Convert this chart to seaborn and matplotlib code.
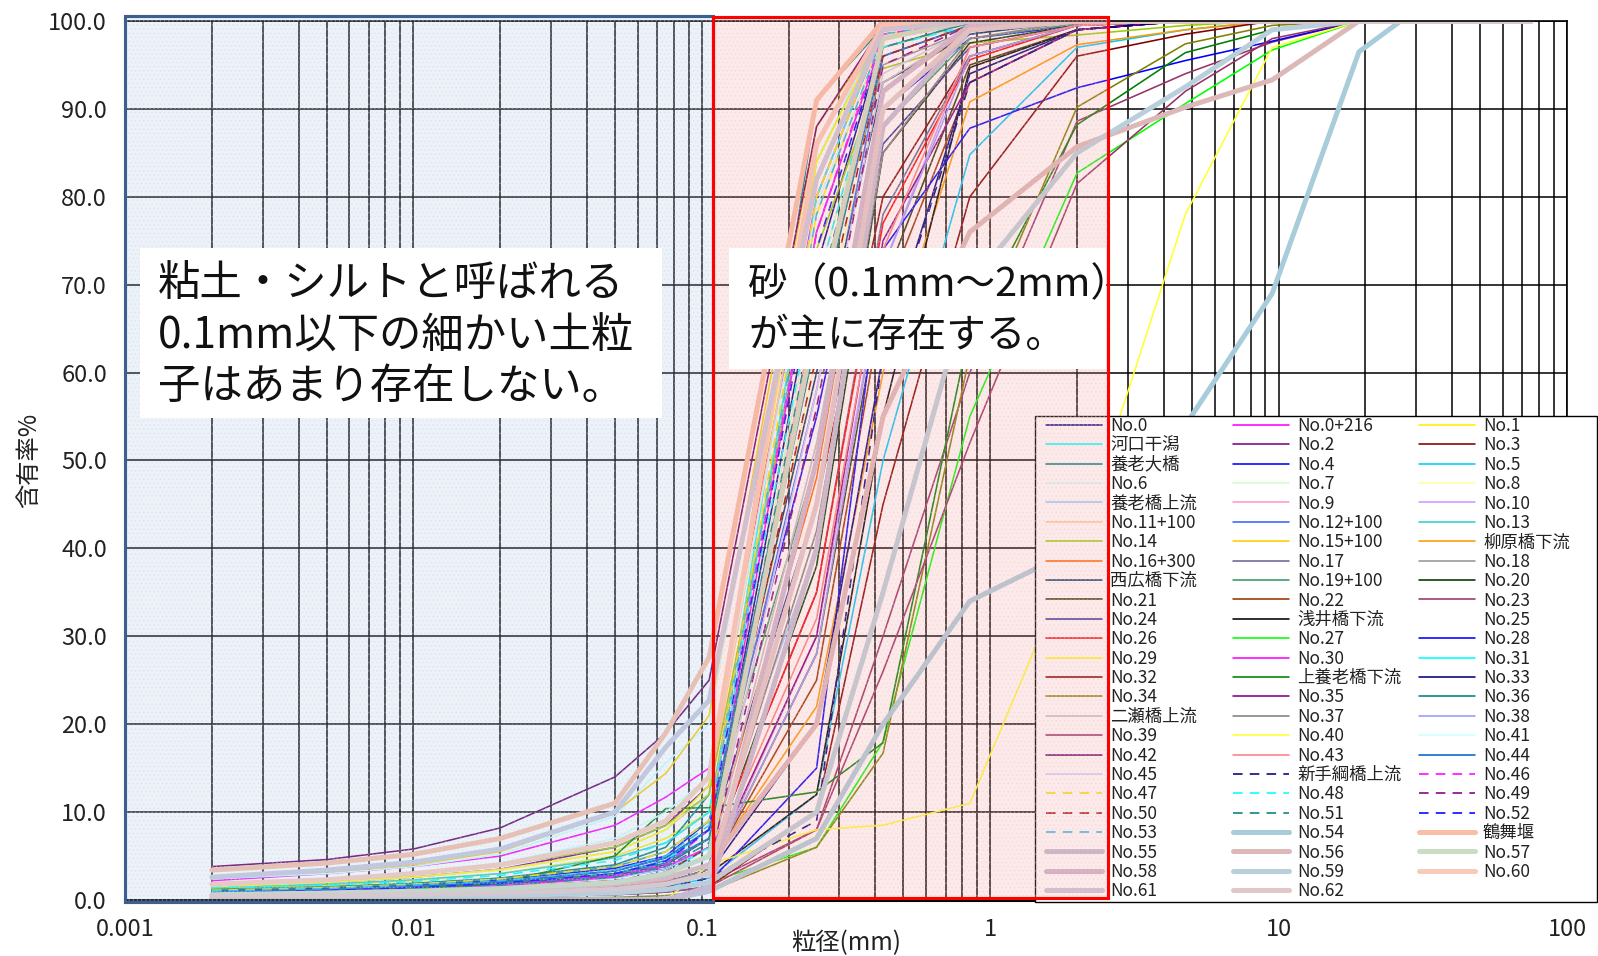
import matplotlib
matplotlib.use("Agg")
import matplotlib.pyplot as plt
from matplotlib.patches import Rectangle
from matplotlib.lines import Line2D
from matplotlib.ticker import LogLocator, FixedLocator, NullFormatter
import seaborn as sns

# Sieve / hydrometer particle sizes (mm)
SIZES_MM = [0.002, 0.005, 0.01, 0.02, 0.05, 0.075, 0.106,
            0.25, 0.425, 0.85, 2.0, 4.75, 9.5, 19.0, 26.5, 37.5, 53.0, 75.0]

# Sampling points, in legend order
NAMES = [
    "No.0", "No.0+216", "No.1", "河口干潟", "No.2", "No.3", "養老大橋", "No.4", "No.5",
    "No.6", "No.7", "No.8", "養老橋上流", "No.9", "No.10", "No.11+100", "No.12+100", "No.13",
    "No.14", "No.15+100", "柳原橋下流", "No.16+300", "No.17", "No.18", "西広橋下流", "No.19+100", "No.20",
    "No.21", "No.22", "No.23", "No.24", "浅井橋下流", "No.25", "No.26", "No.27", "No.28",
    "No.29", "No.30", "No.31", "No.32", "上養老橋下流", "No.33", "No.34", "No.35", "No.36",
    "二瀬橋上流", "No.37", "No.38", "No.39", "No.40", "No.41", "No.42", "No.43", "No.44",
    "No.45", "新手綱橋上流", "No.46", "No.47", "No.48", "No.49", "No.50", "No.51", "No.52",
    "No.53", "No.54", "鶴舞堰", "No.55", "No.56", "No.57", "No.58", "No.59", "No.60",
    "No.61", "No.62",
]

# Percent passing (含有率%) at each size in SIZES_MM, one row per sampling point
PASSING = [
    [1.0, 1.2, 1.4, 1.8, 2.6, 3.5, 6.0, 72, 98, 99.6, 100, 100, 100, 100, 100, 100, 100, 100],
    [2.2, 3.0, 3.8, 5.0, 8.5, 11.7, 15.0, 80, 99, 100, 100, 100, 100, 100, 100, 100, 100, 100],
    [1.3, 1.7, 2.2, 3.0, 5.0, 7.0, 10.0, 78, 98.5, 99.8, 100, 100, 100, 100, 100, 100, 100, 100],
    [0.8, 1.0, 1.3, 1.7, 3.0, 4.5, 8.0, 84, 99.2, 100, 100, 100, 100, 100, 100, 100, 100, 100],
    [1.6, 2.0, 2.6, 3.5, 6.0, 8.5, 13.0, 86, 99, 100, 100, 100, 100, 100, 100, 100, 100, 100],
    [0.5, 0.6, 0.8, 1.0, 1.5, 2.0, 3.5, 45, 80, 96, 99.5, 100, 100, 100, 100, 100, 100, 100],
    [1.2, 1.5, 1.9, 2.5, 4.0, 6.0, 12.0, 91, 99.3, 100, 100, 100, 100, 100, 100, 100, 100, 100],
    [1.0, 1.3, 1.7, 2.3, 3.6, 5.0, 9.0, 55, 90, 98, 99.5, 100, 100, 100, 100, 100, 100, 100],
    [0.3, 0.4, 0.5, 0.7, 1.0, 1.5, 2.5, 12, 50, 84.8, 97, 99, 100, 100, 100, 100, 100, 100],
    [2.4, 3.0, 3.8, 5.2, 9.5, 15.6, 20.0, 86, 98, 99.5, 100, 100, 100, 100, 100, 100, 100, 100],
    [0.6, 0.8, 1.0, 1.3, 2.0, 3.0, 5.0, 70, 97, 99.5, 100, 100, 100, 100, 100, 100, 100, 100],
    [0.4, 0.5, 0.7, 1.0, 1.6, 2.5, 4.0, 62, 94, 99, 100, 100, 100, 100, 100, 100, 100, 100],
    [0.7, 0.9, 1.2, 1.6, 2.5, 3.5, 6.0, 40, 88, 98.5, 100, 100, 100, 100, 100, 100, 100, 100],
    [0.5, 0.7, 0.9, 1.2, 2.0, 3.0, 5.0, 68, 96, 99.5, 100, 100, 100, 100, 100, 100, 100, 100],
    [0.2, 0.3, 0.4, 0.6, 1.0, 1.5, 3.0, 30, 72, 97, 99.5, 100, 100, 100, 100, 100, 100, 100],
    [1.5, 2.0, 2.6, 3.5, 5.5, 8.0, 12.0, 82, 99, 100, 100, 100, 100, 100, 100, 100, 100, 100],
    [0.9, 1.1, 1.4, 1.9, 3.0, 4.5, 7.0, 58, 96, 99.5, 100, 100, 100, 100, 100, 100, 100, 100],
    [1.4, 1.8, 2.3, 3.0, 4.8, 6.5, 10.0, 76, 98, 99.8, 100, 100, 100, 100, 100, 100, 100, 100],
    [1.7, 2.2, 2.9, 3.9, 6.0, 8.5, 12.0, 74, 94.6, 97.5, 98.4, 99.5, 100, 100, 100, 100, 100, 100],
    [2.6, 3.2, 4.0, 5.5, 10.0, 14.4, 21.0, 88, 99, 100, 100, 100, 100, 100, 100, 100, 100, 100],
    [0.4, 0.5, 0.7, 1.0, 1.6, 2.5, 4.0, 22, 60, 90.8, 97.3, 99, 100, 100, 100, 100, 100, 100],
    [0.8, 1.0, 1.2, 1.5, 2.2, 3.0, 5.0, 48, 92, 99, 100, 100, 100, 100, 100, 100, 100, 100],
    [0.6, 0.8, 1.0, 1.3, 2.0, 3.0, 5.0, 35, 78, 96, 99.5, 100, 100, 100, 100, 100, 100, 100],
    [0.9, 1.1, 1.4, 1.8, 2.8, 4.0, 7.0, 66, 95, 99, 100, 100, 100, 100, 100, 100, 100, 100],
    [1.1, 1.3, 1.6, 2.1, 3.3, 4.8, 8.0, 60, 93, 98.5, 100, 100, 100, 100, 100, 100, 100, 100],
    [1.2, 1.5, 1.8, 2.4, 3.8, 5.5, 9.0, 50, 88, 98, 99.7, 100, 100, 100, 100, 100, 100, 100],
    [0.5, 0.7, 0.9, 1.2, 1.8, 2.6, 4.0, 38, 85, 97.5, 99.5, 100, 100, 100, 100, 100, 100, 100],
    [0.3, 0.4, 0.5, 0.7, 1.0, 1.6, 3.0, 28, 70, 95, 99, 100, 100, 100, 100, 100, 100, 100],
    [0.4, 0.5, 0.7, 0.9, 1.4, 2.0, 3.5, 25, 68, 93, 99, 100, 100, 100, 100, 100, 100, 100],
    [0.2, 0.3, 0.4, 0.5, 0.8, 1.2, 2.0, 8, 30, 60, 88.6, 94, 97.6, 100, 100, 100, 100, 100],
    [0.9, 1.1, 1.4, 1.8, 2.8, 4.0, 7.0, 45, 86, 97, 99.5, 100, 100, 100, 100, 100, 100, 100],
    [0.3, 0.4, 0.5, 0.7, 1.0, 1.5, 3.0, 12, 55, 94.7, 99, 100, 100, 100, 100, 100, 100, 100],
    [0.5, 0.6, 0.8, 1.0, 1.5, 2.0, 3.0, 50, 90, 99, 100, 100, 100, 100, 100, 100, 100, 100],
    [0.6, 0.8, 1.0, 1.3, 2.0, 3.0, 5.0, 35, 77, 95.6, 99.5, 100, 100, 100, 100, 100, 100, 100],
    [0.3, 0.4, 0.5, 0.6, 1.0, 1.4, 2.0, 6, 18, 55, 82.7, 90.6, 96.7, 100, 100, 100, 100, 100],
    [0.2, 0.3, 0.4, 0.5, 0.8, 1.2, 2.0, 15, 74, 87.8, 92.4, 95.5, 97.7, 100, 100, 100, 100, 100],
    [1.5, 2.0, 2.6, 3.4, 5.5, 8.0, 13.0, 84, 99, 100, 100, 100, 100, 100, 100, 100, 100, 100],
    [0.7, 0.9, 1.2, 1.6, 2.6, 3.8, 6.0, 76, 98, 99.8, 100, 100, 100, 100, 100, 100, 100, 100],
    [0.6, 0.8, 1.0, 1.3, 2.0, 3.0, 6.0, 80, 99, 100, 100, 100, 100, 100, 100, 100, 100, 100],
    [0.2, 0.3, 0.3, 0.4, 0.6, 0.9, 1.5, 10, 45, 80, 96, 98.5, 100, 100, 100, 100, 100, 100],
    [0.5, 0.8, 1.2, 2.0, 5.0, 10.4, 10.5, 12.3, 17.9, 65, 88.2, 96.4, 99, 100, 100, 100, 100, 100],
    [0.4, 0.5, 0.6, 0.8, 1.2, 1.8, 3.0, 20, 62, 94, 99, 100, 100, 100, 100, 100, 100, 100],
    [0.1, 0.1, 0.2, 0.2, 0.3, 0.5, 1.0, 6, 16.7, 62, 90.2, 97.4, 99.5, 100, 100, 100, 100, 100],
    [0.4, 0.5, 0.7, 0.9, 1.4, 2.0, 3.5, 30, 75, 93, 99, 100, 100, 100, 100, 100, 100, 100],
    [1.0, 1.2, 1.5, 2.0, 3.0, 4.2, 7.0, 64, 97, 99.8, 100, 100, 100, 100, 100, 100, 100, 100],
    [0.5, 0.6, 0.8, 1.1, 1.7, 2.5, 4.0, 52, 93, 99, 100, 100, 100, 100, 100, 100, 100, 100],
    [0.4, 0.5, 0.7, 0.9, 1.4, 2.0, 3.5, 42, 85, 98, 100, 100, 100, 100, 100, 100, 100, 100],
    [0.3, 0.4, 0.5, 0.7, 1.0, 1.6, 3.0, 28, 72, 96, 99.5, 100, 100, 100, 100, 100, 100, 100],
    [0.2, 0.2, 0.3, 0.4, 0.6, 0.9, 1.5, 8, 26, 52, 81.5, 92, 98, 100, 100, 100, 100, 100],
    [0.0, 0.0, 0.0, 0.0, 0.0, 0.0, 4.0, 8, 8.5, 11, 40, 78, 97, 100, 100, 100, 100, 100],
    [1.8, 2.4, 3.1, 4.2, 7.0, 10.0, 14.0, 79, 98, 100, 100, 100, 100, 100, 100, 100, 100, 100],
    [3.8, 4.6, 5.8, 8.2, 14.0, 19.0, 25.0, 88, 99.5, 100, 100, 100, 100, 100, 100, 100, 100, 100],
    [0.5, 0.6, 0.8, 1.0, 1.5, 2.2, 4.0, 32, 74, 97, 99.5, 100, 100, 100, 100, 100, 100, 100],
    [1.0, 1.2, 1.6, 2.1, 3.3, 4.8, 8.0, 66, 96, 99.5, 100, 100, 100, 100, 100, 100, 100, 100],
    [0.6, 0.7, 0.9, 1.2, 1.9, 2.8, 5.0, 58, 94, 99.2, 100, 100, 100, 100, 100, 100, 100, 100],
    [0.3, 0.4, 0.5, 0.6, 1.0, 1.4, 2.5, 9, 62, 93, 99, 100, 100, 100, 100, 100, 100, 100],
    [0.9, 1.1, 1.4, 1.8, 2.8, 4.0, 8.0, 76, 98.5, 100, 100, 100, 100, 100, 100, 100, 100, 100],
    [1.1, 1.4, 1.8, 2.4, 3.8, 5.5, 9.0, 80, 99, 100, 100, 100, 100, 100, 100, 100, 100, 100],
    [1.4, 1.7, 2.1, 2.8, 4.5, 6.5, 10.0, 70, 97, 99.5, 100, 100, 100, 100, 100, 100, 100, 100],
    [0.5, 0.6, 0.8, 1.0, 1.6, 2.4, 4.0, 56, 95, 99.5, 100, 100, 100, 100, 100, 100, 100, 100],
    [0.7, 0.9, 1.1, 1.4, 2.2, 3.2, 6.0, 62, 96, 99.5, 100, 100, 100, 100, 100, 100, 100, 100],
    [0.8, 1.0, 1.3, 1.7, 2.6, 3.8, 6.5, 68, 97, 99.8, 100, 100, 100, 100, 100, 100, 100, 100],
    [0.9, 1.1, 1.4, 1.9, 3.0, 4.4, 8.0, 74, 98, 100, 100, 100, 100, 100, 100, 100, 100, 100],
    [1.0, 1.3, 1.7, 2.2, 3.4, 5.0, 8.5, 78, 98.5, 100, 100, 100, 100, 100, 100, 100, 100, 100],
    [0.0, 0.0, 0.0, 0.0, 0.0, 0.0, 1.0, 7, 20, 34, 40, 54, 69, 96.5, 100, 100, 100, 100],
    [3.4, 4.2, 5.2, 7.0, 11.0, 19.0, 27.6, 91, 100, 100, 100, 100, 100, 100, 100, 100, 100, 100],
    [0.0, 0.0, 0.0, 0.0, 0.0, 0.0, 1.0, 40, 88, 99, 100, 100, 100, 100, 100, 100, 100, 100],
    [0.5, 0.7, 0.9, 1.2, 1.8, 2.5, 4.0, 20, 55, 76, 85.7, 90.2, 93.3, 100, 100, 100, 100, 100],
    [0.6, 0.8, 1.0, 1.3, 2.0, 3.0, 5.0, 66, 98, 100, 100, 100, 100, 100, 100, 100, 100, 100],
    [0.0, 0.0, 0.0, 0.0, 0.0, 0.0, 1.5, 50, 92, 99.5, 100, 100, 100, 100, 100, 100, 100, 100],
    [0.2, 0.3, 0.4, 0.5, 0.8, 1.2, 2.0, 10, 35, 70, 85, 92.5, 99, 100, 100, 100, 100, 100],
    [1.8, 2.3, 3.0, 4.0, 6.5, 9.0, 14.0, 86, 99.5, 100, 100, 100, 100, 100, 100, 100, 100, 100],
    [2.6, 3.4, 4.3, 5.8, 10.0, 17.4, 22.7, 82, 99, 100, 100, 100, 100, 100, 100, 100, 100, 100],
    [0.4, 0.5, 0.6, 0.8, 1.2, 1.8, 3.0, 45, 90, 99, 100, 100, 100, 100, 100, 100, 100, 100],
]

# Line styling per sampling point
COLORS = [
    "#000080", "#ff00ff", "#ffee00", "#00ffff", "#800080", "#800000", "#008080", "#0000ff", "#00ccff",
    "#ccffff", "#ccffcc", "#ffff99", "#99ccff", "#ff99cc", "#cc99ff", "#ffcc99", "#3366ff", "#33cccc",
    "#99cc00", "#ffcc00", "#ff9900", "#ff6600", "#666699", "#969696", "#003366", "#339966", "#003300",
    "#333300", "#993300", "#993366", "#333399", "#000000", "#ffffff", "#ff0000", "#00ff00", "#0000ff",
    "#ffff00", "#ff00ff", "#00ffff", "#800000", "#008000", "#000080", "#808000", "#800080", "#008080",
    "#c0c0c0", "#808080", "#9999ff", "#993366", "#ffff33", "#ccffff", "#660066", "#ff8080", "#0066cc",
    "#ccccff", "#000080", "#ff00ff", "#ffdd00", "#00ffff", "#800080", "#a00000", "#008080", "#0000ff",
    "#22bbee", "#a9ccda", "#f8bfa5", "#c2bcd2", "#dcb8b8", "#ccdcc0", "#cab6cc", "#b9d0dc", "#f8cab8",
    "#c6c8da", "#e0c8c8",
]
DASHED = {"新手綱橋上流", "No.46", "No.47", "No.48", "No.49", "No.50", "No.51", "No.52", "No.53"}
THICK = {"No.54", "鶴舞堰", "No.55", "No.56", "No.57", "No.58", "No.59", "No.60", "No.61", "No.62"}

X_TICKS = [0.001, 0.01, 0.1, 1, 10, 100]
X_TICK_LABELS = ["0.001", "0.01", "0.1", "1", "10", "100"]
Y_TICKS = [0, 10, 20, 30, 40, 50, 60, 70, 80, 90, 100]

sns.set_theme(style="white")
plt.rcParams["font.family"] = ["Noto Sans CJK JP", "DejaVu Sans"]
plt.rcParams["hatch.linewidth"] = 0.6

W, H = 1598, 956
fig = plt.figure(figsize=(W / 100, H / 100), dpi=100)
L, R, T, B = 125, 1567, 21, 900
ax = fig.add_axes([L / W, 1 - B / H, (R - L) / W, (B - T) / H])


def style_of(name):
    lw = 3.6 if name in THICK else 1.15
    ls = (0, (6, 4.5)) if name in DASHED else "-"
    return lw, ls


for name, color, vals in zip(NAMES, COLORS, PASSING):
    lw, ls = style_of(name)
    sns.lineplot(x=SIZES_MM, y=vals, color=color, linewidth=lw, linestyle=ls,
                 solid_capstyle="round", ax=ax, zorder=2)

ax.set_xscale("log")
ax.set_xlim(0.001, 100)
ax.set_ylim(0, 100)
ax.xaxis.set_major_locator(FixedLocator(X_TICKS))
ax.set_xticklabels(X_TICK_LABELS)
ax.xaxis.set_minor_locator(LogLocator(base=10, subs=range(2, 10), numticks=50))
ax.xaxis.set_minor_formatter(NullFormatter())
ax.set_yticks(Y_TICKS)
ax.set_yticklabels([f"{v:.1f}" for v in Y_TICKS])
ax.tick_params(axis="both", which="both", length=0, labelsize=17, colors="#222222")
ax.tick_params(axis="x", pad=13)
ax.tick_params(axis="y", pad=13)
ax.set_axisbelow(True)
ax.grid(which="both", axis="x", color="black", linewidth=1.1)
ax.grid(which="major", axis="y", color="black", linewidth=1.1)
for side in ("top", "right", "left"):
    ax.spines[side].set_color("black")
    ax.spines[side].set_linewidth(1.2)
ax.spines["bottom"].set_color("black")
ax.spines["bottom"].set_linewidth(2.2)

ax.set_xlabel("粒径(mm)", fontsize=17.5, color="#222222", va="center")
ax.xaxis.set_label_coords(0.5, -(943 - B) / (B - T))
ax.set_ylabel("含有率%", fontsize=17.5, color="#222222", va="center")
ax.yaxis.set_label_coords((29 - L) / (R - L), 0.5)

# Legend panel: white box with three columns, entries running row by row
ax.add_patch(Rectangle((1035 / W, 1 - 902 / H), (1597 - 1035) / W, (902 - 416) / H,
                       transform=fig.transFigure, facecolor="white", edgecolor="black",
                       linewidth=1.0, zorder=4.5, clip_on=False))
handles = []
for name, color in zip(NAMES, COLORS):
    lw, ls = style_of(name)
    handles.append(Line2D([], [], color=color, linewidth=lw, linestyle=ls, solid_capstyle="round"))
ncol = 3
col_x = [1046, 1233, 1419]
legends = []
for c in range(ncol):
    idx = list(range(c, len(NAMES), ncol))
    lg = ax.legend([handles[i] for i in idx], [NAMES[i] for i in idx], ncol=1,
                   loc="upper left", bbox_to_anchor=(col_x[c] / W, 1 - 417 / H),
                   bbox_transform=fig.transFigure, borderaxespad=0, borderpad=0,
                   fontsize=12.5, handlelength=3.23, handletextpad=0.46,
                   labelspacing=0.08, frameon=False)
    for t in lg.get_texts():
        t.set_color("#222222")
    lg.set_zorder(5)
    legends.append(lg)
for lg in legends[:-1]:
    ax.add_artist(lg)

# Size-class zones: clay/silt (< 0.1 mm) and sand (0.1 - 2 mm)
x_split, x_sand_end = 0.109, 2.56
zones = [
    ((0.001, -0.2), x_split - 0.001, 100.8, "#b0c8e8", "#c4d4ea", "#3d5f8e"),
    ((x_split, 0.2), x_sand_end - x_split, 100.3, "#f4a0a0", "#f6c4c4", "#ff0000"),
]
for xy, w, h, fill, dots, edge in zones:
    ax.add_patch(Rectangle(xy, w, h, facecolor=fill, alpha=0.22, edgecolor="none",
                           zorder=6, clip_on=False))
    ax.add_patch(Rectangle(xy, w, h, facecolor="none", edgecolor=dots, hatch="....",
                           linewidth=0, alpha=0.35, zorder=6.1, clip_on=False))
    ax.add_patch(Rectangle(xy, w, h, facecolor="none", edgecolor=edge, linewidth=2.25,
                           zorder=7, clip_on=False))


# Annotation boxes
def note(x0, y0, x1, y1, lines, tx, ty0, dy, size):
    fig.add_artist(Rectangle((x0 / W, 1 - y1 / H), (x1 - x0) / W, (y1 - y0) / H,
                             transform=fig.transFigure, facecolor="white", edgecolor="none", zorder=20))
    for k, s in enumerate(lines):
        fig.text(tx / W, 1 - (ty0 + k * dy) / H, s, fontsize=size, va="center", ha="left",
                 color="#111111", zorder=21)


note(140, 248, 662, 418, ["粘土・シルトと呼ばれる", "0.1mm以下の細かい土粒", "子はあまり存在しない。"],
     158, 285, 51, 30.5)
note(729, 248, 1106, 369, ["砂（0.1mm～2mm）", "が主に存在する。"], 748, 285, 51, 28.5)

fig.savefig("out.png", dpi=100)
